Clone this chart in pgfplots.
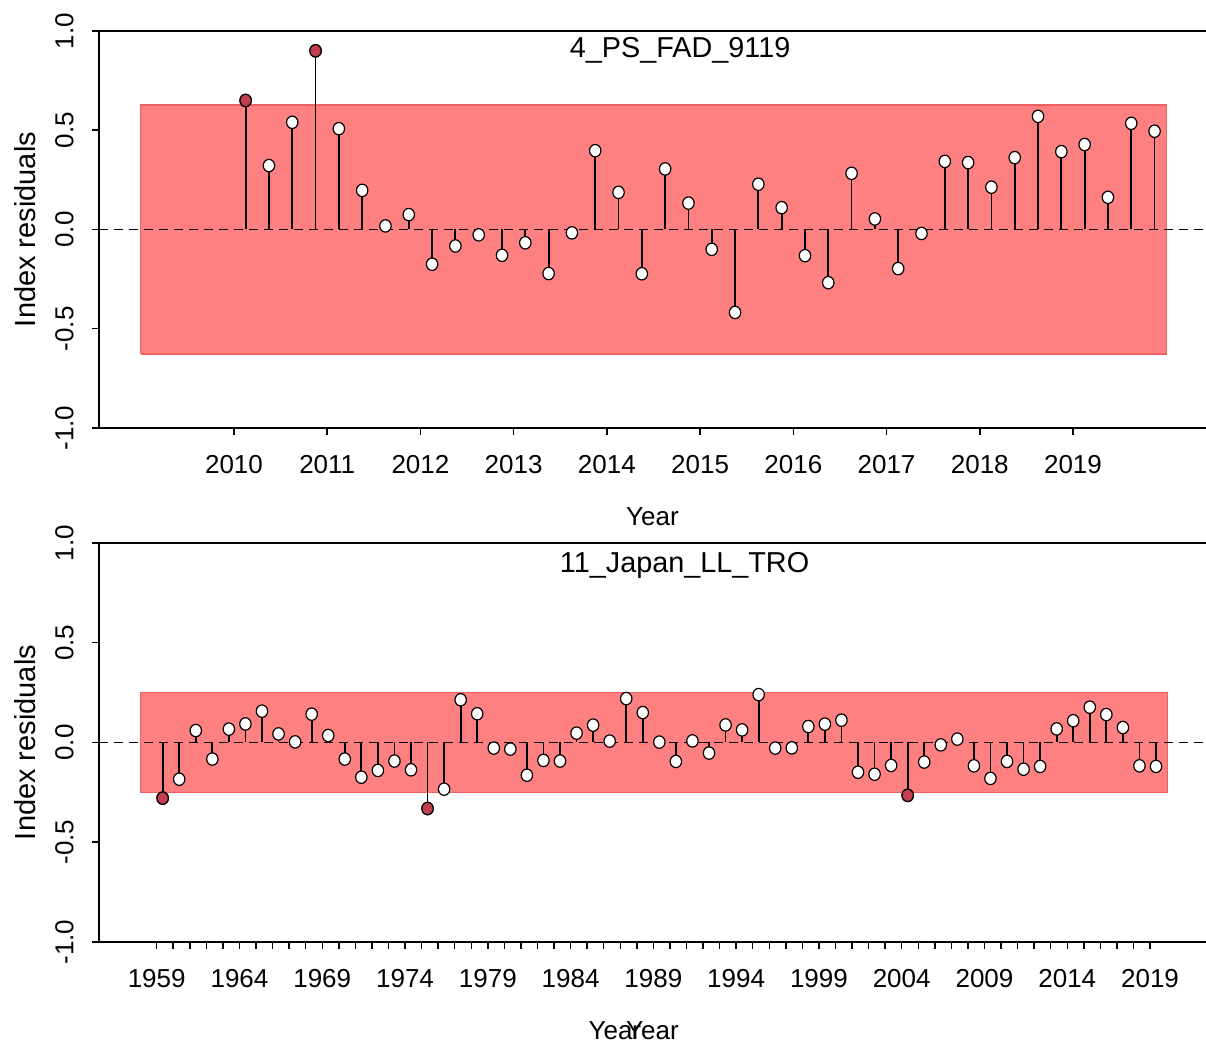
\documentclass[border=0pt]{standalone}
\usepackage{fontspec}
\setmainfont{Liberation Sans}
\usepackage{pgfplots}
\usepackage{pgfplotstable}
\pgfplotsset{compat=1.18}
\definecolor{bandfill}{RGB}{255,128,128}
\definecolor{banddraw}{RGB}{236,96,96}
\definecolor{outred}{RGB}{196,62,82}

\pgfplotstableread{
t v
2010.125 0.650
2010.375 0.322
2010.625 0.540
2010.875 0.900
2011.125 0.508
2011.375 0.197
2011.625 0.018
2011.875 0.075
2012.125 -0.175
2012.375 -0.083
2012.625 -0.027
2012.875 -0.130
2013.125 -0.067
2013.375 -0.222
2013.625 -0.017
2013.875 0.397
2014.125 0.187
2014.375 -0.223
2014.625 0.305
2014.875 0.133
2015.125 -0.100
2015.375 -0.418
2015.625 0.228
2015.875 0.110
2016.125 -0.132
2016.375 -0.268
2016.625 0.283
2016.875 0.053
2017.125 -0.197
2017.375 -0.020
2017.625 0.343
2017.875 0.337
2018.125 0.213
2018.375 0.362
2018.625 0.570
2018.875 0.392
2019.125 0.428
2019.375 0.162
2019.625 0.535
2019.875 0.495
}\topdata

\pgfplotstableread{
year v
1959 -0.279
1960 -0.184
1961 0.060
1962 -0.083
1963 0.067
1964 0.093
1965 0.157
1966 0.043
1967 0.003
1968 0.142
1969 0.035
1970 -0.083
1971 -0.174
1972 -0.140
1973 -0.093
1974 -0.137
1975 -0.331
1976 -0.234
1977 0.214
1978 0.144
1979 -0.028
1980 -0.033
1981 -0.164
1982 -0.090
1983 -0.093
1984 0.047
1985 0.087
1986 0.007
1987 0.220
1988 0.150
1989 0.002
1990 -0.095
1991 0.008
1992 -0.053
1993 0.088
1994 0.063
1995 0.240
1996 -0.028
1997 -0.027
1998 0.080
1999 0.092
2000 0.112
2001 -0.149
2002 -0.159
2003 -0.115
2004 -0.265
2005 -0.098
2006 -0.012
2007 0.017
2008 -0.117
2009 -0.180
2010 -0.095
2011 -0.134
2012 -0.120
2013 0.068
2014 0.109
2015 0.177
2016 0.140
2017 0.075
2018 -0.117
2019 -0.120
}\botdata

\pgfplotsset{resid/.style={
  scale only axis, width=553.5pt, clip=false,
  ymin=-1, ymax=1,
  ytick={-1,-0.5,0,0.5,1}, yticklabels={-1.0,-0.5,0.0,0.5,1.0},
  axis x line*=box, axis y line*=left,
  xtick pos=bottom, ytick pos=left,
  tick align=outside, major tick length=3.5pt, minor tick length=3.5pt,
  axis line style={line width=0.75pt, black},
  every tick/.style={black, line width=0.75pt},
  minor tick style={black, line width=0.75pt},
  tick label style={font=\fontsize{13}{15}\selectfont, inner sep=0pt},
  xticklabel style={anchor=north}, xticklabel shift=10pt,
  yticklabel style={rotate=90, anchor=south}, yticklabel shift=9pt,
  stem/.style={ycomb, black, line width=0.9pt, mark=none},
  dot/.style={only marks, mark=*, mark size=3.1pt,
    mark options={fill=white, draw=black, line width=0.6pt, xscale=0.92}},
  reddot/.style={only marks, mark=*, mark size=3.1pt,
    mark options={fill=outred, draw=black, line width=0.6pt, xscale=0.92}},
}}

\begin{document}
\begin{tikzpicture}
\path[use as bounding box] (0,0) rectangle (603pt,524pt);

% ---------- top panel ----------
\begin{axis}[resid, at={(49.5pt,310pt)}, anchor=south west, height=198.5pt,
  xmin=2008.552, xmax=2020.427,
  xtick={2010,2011,2012,2013,2014,2015,2016,2017,2018,2019},
  xticklabels={2010,2011,2012,2013,2014,2015,2016,2017,2018,2019}]
\addplot[fill=bandfill, draw=banddraw, line width=0.6pt] coordinates
  {(2009,-0.627) (2009,0.627) (2020,0.627) (2020,-0.627) (2009,-0.627)};
\addplot[black, line width=0.7pt, dash pattern=on 4.5pt off 3pt] coordinates
  {(2008.552,0) (2020.427,0)};
\addplot[stem] table[x=t, y=v] {\topdata};
\addplot[dot] table[x=t, y=v] {\topdata};
\addplot[reddot] coordinates {(2010.125,0.650) (2010.875,0.900)};
\node[anchor=base, font=\fontsize{14.4}{16}\selectfont] at (rel axis cs:0.525,0.932) {4\_PS\_FAD\_9119};
\node[anchor=base, rotate=90, font=\fontsize{14.5}{17}\selectfont] at (rel axis cs:-0.0578,0.5) {Index residuals};
\node[anchor=north, inner sep=0pt, font=\fontsize{13}{15}\selectfont] at (rel axis cs:0.5,-0.199) {Year};
\end{axis}

% ---------- bottom panel ----------
\begin{axis}[resid, at={(49.5pt,53pt)}, anchor=south west, height=199.5pt,
  xmin=1955.515, xmax=2022.38,
  xtick={1959,1964,1969,1974,1979,1984,1989,1994,1999,2004,2009,2014,2019},
  xticklabels={1959,1964,1969,1974,1979,1984,1989,1994,1999,2004,2009,2014,2019},
  minor xtick={1959,1960,...,2019}]
\addplot[fill=bandfill, draw=banddraw, line width=0.6pt] coordinates
  {(1958,-0.25) (1958,0.25) (2020.05,0.25) (2020.05,-0.25) (1958,-0.25)};
\addplot[black, line width=0.7pt, dash pattern=on 4.5pt off 3pt] coordinates
  {(1955.515,0) (2022.38,0)};
\addplot[stem] table[x expr=\thisrow{year}+0.36, y=v] {\botdata};
\addplot[dot] table[x expr=\thisrow{year}+0.36, y=v] {\botdata};
\addplot[reddot] coordinates {(1959.36,-0.279) (1975.36,-0.331) (2004.36,-0.265)};
\node[anchor=base, font=\fontsize{14.4}{16}\selectfont] at (rel axis cs:0.529,0.927) {11\_Japan\_LL\_TRO};
\node[anchor=base, rotate=90, font=\fontsize{14.5}{17}\selectfont] at (rel axis cs:-0.0578,0.5) {Index residuals};
\node[anchor=north, inner sep=0pt, font=\fontsize{13}{15}\selectfont] at (rel axis cs:0.466,-0.198) {Year};
\node[anchor=north, inner sep=0pt, font=\fontsize{13}{15}\selectfont] at (rel axis cs:0.5,-0.198) {Year};
\end{axis}
\end{tikzpicture}
\end{document}
